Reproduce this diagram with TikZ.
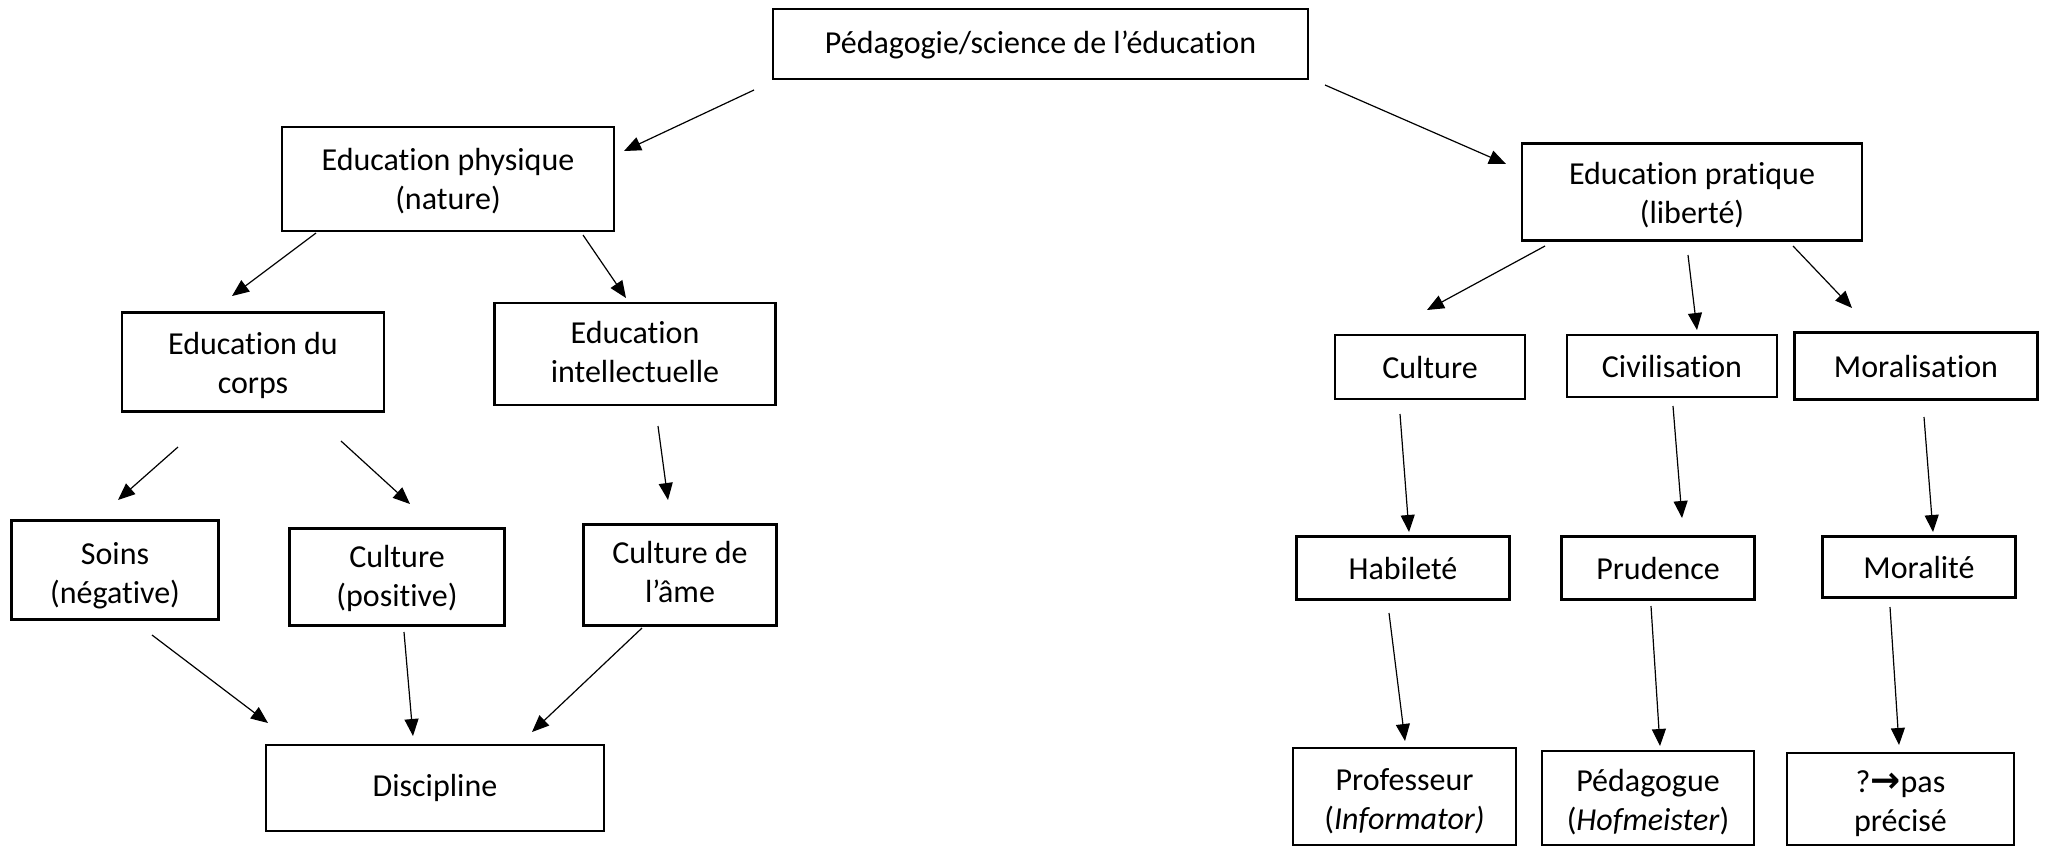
\documentclass[tikz,border=0pt]{standalone}
\usepackage{fontspec}
\setmainfont{Carlito}[RawFeature={-liga;-dlig;-clig}]
\newfontfamily\symfont{DejaVu Sans}
\usetikzlibrary{arrows.meta}
% text block lowered by #1 inside its box
\newcommand\lowtxt[2]{\raisebox{-#1}[\height][\depth]{\begin{tabular}{@{}c@{}}#2\end{tabular}}}
\begin{document}
\begin{tikzpicture}[x=0.5pt,y=-0.5pt,
  box/.style={draw=black,line width=1.25pt,align=center,inner sep=0pt,
    font=\fontsize{16}{19.5}\selectfont},
  conn/.style={line width=0.6pt,-{Triangle[length=8.5pt,width=7pt]}}]
\useasboundingbox (0,0) rectangle (2045,848);
% nodes
\node[box,minimum width=267.5pt,minimum height=35pt] (ped) at (1040.5,44) {\lowtxt{1pt}{Pédagogie/science de l’éducation}};
\node[box,minimum width=166pt,minimum height=52pt] (phys) at (448,179) {\lowtxt{1.8pt}{Education physique\\(nature)}};
\node[box,minimum width=131pt,minimum height=49.5pt] (corps) at (253,362) {\lowtxt{2pt}{Education du\\corps}};
\node[box,minimum width=140.5pt,minimum height=51pt] (intel) at (635,354) {\lowtxt{0.7pt}{Education\\intellectuelle}};
\node[box,minimum width=103.5pt,minimum height=49.5pt] (soins) at (115,570) {\lowtxt{3.2pt}{Soins\\(négative)}};
\node[box,minimum width=107.5pt,minimum height=48.5pt] (culpos) at (397,577) {\lowtxt{1.3pt}{Culture\\(positive)}};
\node[box,minimum width=96.5pt,minimum height=50.5pt] (ame) at (680,575) {\lowtxt{0pt}{Culture de\\l’âme}};
\node[box,minimum width=169pt,minimum height=43pt] (disc) at (435,788) {Discipline};
\node[box,minimum width=170pt,minimum height=48.5pt] (prat) at (1692,192) {\lowtxt{2.3pt}{Education pratique\\(liberté)}};
\node[box,minimum width=95pt,minimum height=32pt] (cult) at (1430,367) {Culture};
\node[box,minimum width=105pt,minimum height=31pt] (civ) at (1672,366) {Civilisation};
\node[box,minimum width=121.5pt,minimum height=33.5pt] (moral) at (1916,366) {Moralisation};
\node[box,minimum width=106.5pt,minimum height=31.5pt] (hab) at (1403,568) {Habileté};
\node[box,minimum width=96.5pt,minimum height=31.5pt] (prud) at (1658,568) {Prudence};
\node[box,minimum width=96.5pt,minimum height=30.5pt] (morte) at (1919,567) {Moralité};
\node[box,minimum width=111.5pt,minimum height=48.5pt] (prof) at (1404.5,796.5) {\lowtxt{2.6pt}{Professeur\\(\textit{Informator)}}};
\node[box,minimum width=106pt,minimum height=47pt] (pedag) at (1648,798) {\lowtxt{2.8pt}{Pédagogue\\(\textit{Hofmeister})}};
\node[box,minimum width=113.5pt,minimum height=46pt] (pas) at (1900.5,799) {\lowtxt{2.8pt}{?{\symfont\bfseries\fontsize{18}{19.5}\selectfont →}pas\\précisé}};
% connectors
\draw[conn] ([shift={(-286.5,46)}]ped.center) -- ([shift={(176,-28)}]phys.center);
\draw[conn] ([shift={(284.5,41)}]ped.center) -- ([shift={(-186,-28)}]prat.center);
\draw[conn] ([shift={(-132,54)}]phys.center) -- ([shift={(-21,-66)}]corps.center);
\draw[conn] ([shift={(135,56)}]phys.center) -- ([shift={(-9,-56)}]intel.center);
\draw[conn] ([shift={(-75,85)}]corps.center) -- ([shift={(3,-70)}]soins.center);
\draw[conn] ([shift={(88,79)}]corps.center) -- ([shift={(13,-73)}]culpos.center);
\draw[conn] ([shift={(23,72)}]intel.center) -- ([shift={(-12,-75)}]ame.center);
\draw[conn] ([shift={(37,65)}]soins.center) -- ([shift={(-167,-65)}]disc.center);
\draw[conn] ([shift={(7,55)}]culpos.center) -- ([shift={(-22,-52)}]disc.center);
\draw[conn] ([shift={(-38,53)}]ame.center) -- ([shift={(97,-56)}]disc.center);
\draw[conn] ([shift={(-147,54)}]prat.center) -- ([shift={(-3,-57)}]cult.center);
\draw[conn] ([shift={(-4,63)}]prat.center) -- ([shift={(25,-36)}]civ.center);
\draw[conn] ([shift={(101,54)}]prat.center) -- ([shift={(-64,-58)}]moral.center);
\draw[conn] ([shift={(-30,47)}]cult.center) -- ([shift={(6,-36)}]hab.center);
\draw[conn] ([shift={(1,40)}]civ.center) -- ([shift={(24,-50)}]prud.center);
\draw[conn] ([shift={(8,51)}]moral.center) -- ([shift={(14,-35)}]morte.center);
\draw[conn] ([shift={(-14,45)}]hab.center) -- ([shift={(0.5,-55.5)}]prof.center);
\draw[conn] ([shift={(-7,38)}]prud.center) -- ([shift={(12,-52)}]pedag.center);
\draw[conn] ([shift={(-29,40)}]morte.center) -- ([shift={(-1.5,-54)}]pas.center);
\end{tikzpicture}
\end{document}
